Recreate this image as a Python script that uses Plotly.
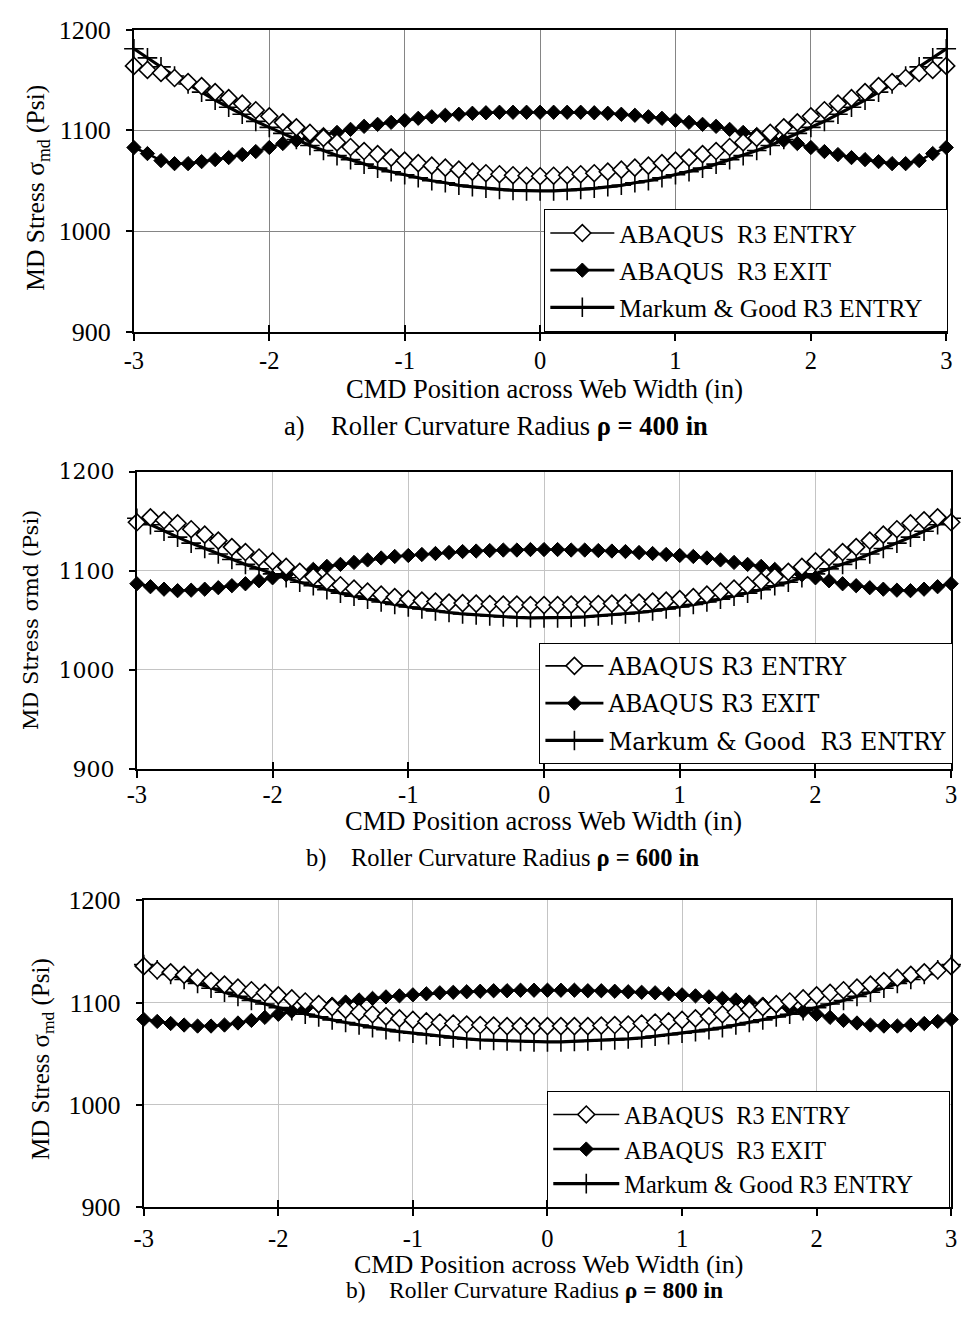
import plotly.graph_objects as go

X = [-3.0, -2.9, -2.8, -2.7, -2.6, -2.5, -2.4, -2.3, -2.2, -2.1, -2.0, -1.9, -1.8, -1.7, -1.6, -1.5, -1.4, -1.3, -1.2, -1.1,
     -1.0, -0.9, -0.8, -0.7, -0.6, -0.5, -0.4, -0.3, -0.2, -0.1, 0.0, 0.1, 0.2, 0.3, 0.4, 0.5, 0.6, 0.7, 0.8, 0.9,
     1.0, 1.1, 1.2, 1.3, 1.4, 1.5, 1.6, 1.7, 1.8, 1.9, 2.0, 2.1, 2.2, 2.3, 2.4, 2.5, 2.6, 2.7, 2.8, 2.9, 3.0]

# Panel a: rho = 400 in
ENTRY_A = [1164, 1160, 1157, 1152, 1148, 1144, 1138, 1132, 1126.5, 1120, 1114, 1108, 1103, 1097.5, 1092.5, 1088, 1083.5,
           1079.5, 1076.5, 1073, 1070, 1067.5, 1065, 1063, 1061, 1059, 1057.5, 1056.5, 1055.5, 1055, 1054.5,
           1055, 1055.5, 1056.5, 1057.5, 1059, 1061, 1063, 1065, 1067.5, 1070, 1073, 1076.5, 1079.5, 1083.5, 1088,
           1092.5, 1097.5, 1103, 1108, 1114, 1120, 1126.5, 1132, 1138, 1144, 1148, 1152, 1157, 1160, 1164]
EXIT_A = [1083, 1077, 1070, 1067, 1067, 1069, 1071, 1073, 1076, 1079, 1083, 1087, 1090, 1093, 1096, 1098, 1101, 1104,
          1106, 1108, 1110, 1112, 1113.5, 1115, 1116, 1117, 1117.5, 1118, 1118, 1118, 1118,
          1118, 1118, 1118, 1117.5, 1117, 1116, 1115, 1113.5, 1112, 1110, 1108, 1106, 1104, 1101, 1098, 1096, 1093,
          1090, 1087, 1083, 1079, 1076, 1073, 1071, 1069, 1067, 1067, 1070, 1077, 1083]
MG_A = [1181, 1172, 1163, 1154, 1146, 1138, 1130, 1123, 1116, 1109, 1103, 1097, 1091, 1085, 1080, 1075, 1071, 1066.5,
        1062.5, 1059, 1056, 1053, 1050, 1048, 1045.5, 1044, 1042.5, 1041.5, 1040.5, 1040, 1040,
        1040, 1040.5, 1041.5, 1042.5, 1044, 1045.5, 1048, 1050, 1053, 1056, 1059, 1062.5, 1066.5, 1071, 1075, 1080,
        1085, 1091, 1097, 1103, 1109, 1116, 1123, 1130, 1138, 1146, 1154, 1163, 1172, 1181]

# Panel b: rho = 600 in
ENTRY_B = [1149, 1154, 1151, 1148, 1142, 1136.5, 1130.5, 1124, 1119, 1113.5, 1109.5, 1104, 1099, 1094, 1089.5, 1085.5,
           1082, 1079, 1076, 1073.5, 1071.5, 1070, 1069, 1068, 1067.5, 1067, 1066.5, 1066, 1066, 1065.5, 1065.5,
           1065.5, 1066, 1066, 1066.5, 1067, 1067.5, 1068, 1069, 1070, 1071.5, 1073.5, 1076, 1079, 1082, 1085.5,
           1089.5, 1094, 1099, 1104, 1109.5, 1113.5, 1119, 1124, 1130.5, 1136.5, 1142, 1148, 1151, 1154, 1149]
EXIT_B = [1087, 1084, 1081.5, 1080, 1080.5, 1081.5, 1083, 1085, 1087, 1090, 1093, 1096, 1099, 1101.5, 1104.5, 1106.5,
          1108.5, 1111, 1113, 1114.5, 1115.5, 1116.5, 1117.5, 1118.5, 1119.5, 1120, 1120.5, 1121, 1121, 1121.5, 1121.5,
          1121.5, 1121, 1121, 1120.5, 1120, 1119.5, 1118.5, 1117.5, 1116.5, 1115.5, 1114.5, 1113, 1111, 1108.5, 1106.5,
          1104.5, 1101.5, 1099, 1096, 1093, 1090, 1087, 1085, 1083, 1081.5, 1080.5, 1080, 1081.5, 1084, 1087]
MG_B = [1153, 1146.5, 1140, 1134, 1128, 1122.5, 1117, 1111.5, 1106.5, 1102, 1097, 1093, 1088.5, 1085, 1081, 1077.5,
        1074.5, 1071.5, 1068.5, 1066, 1063.5, 1061.5, 1059.5, 1058, 1056.5, 1055.5, 1054.5, 1053.5, 1053, 1052.5, 1052.5,
        1052.5, 1053, 1053.5, 1054.5, 1055.5, 1056.5, 1058, 1059.5, 1061.5, 1063.5, 1066, 1068.5, 1071.5, 1074.5, 1077.5,
        1081, 1085, 1088.5, 1093, 1097, 1102, 1106.5, 1111.5, 1117, 1122.5, 1128, 1134, 1140, 1146.5, 1153]

# Panel c: rho = 800 in
ENTRY_C = [1135.5, 1131.5, 1129.5, 1127, 1124, 1121, 1117.5, 1114.5, 1112, 1109.5, 1107, 1104, 1101, 1098.5, 1095.5,
           1093, 1090.5, 1088.5, 1086.5, 1084.5, 1083, 1081.5, 1080.5, 1079.5, 1078.5, 1078, 1077.5, 1077, 1077, 1077, 1077,
           1077, 1077, 1077, 1077.5, 1078, 1078.5, 1079.5, 1080.5, 1081.5, 1083, 1084.5, 1086.5, 1088.5, 1090.5, 1093,
           1095.5, 1098.5, 1101, 1104, 1107, 1109.5, 1112, 1114.5, 1117.5, 1121, 1124, 1127, 1129.5, 1131.5, 1135.5]
EXIT_C = [1083.5, 1081.5, 1079.5, 1078, 1077, 1077, 1078, 1080, 1082.5, 1085.5, 1088.5, 1091.5, 1094, 1096.5, 1098.5,
          1100.5, 1102.5, 1104, 1105.5, 1106.5, 1107.5, 1108.5, 1109.5, 1110, 1110.5, 1111, 1111.5, 1111.5, 1112, 1112, 1112,
          1112, 1112, 1111.5, 1111.5, 1111, 1110.5, 1110, 1109.5, 1108.5, 1107.5, 1106.5, 1105.5, 1104, 1102.5, 1100.5,
          1098.5, 1096.5, 1094, 1091.5, 1088.5, 1085.5, 1082.5, 1080, 1078, 1077, 1077, 1078, 1079.5, 1081.5, 1083.5]
MG_C = [1137, 1132, 1127.5, 1122.5, 1118.5, 1114, 1110, 1106, 1102, 1098.5, 1095, 1092, 1088.5, 1086, 1083, 1080.5,
        1078, 1075.5, 1073.5, 1071.5, 1070, 1068.5, 1067, 1065.5, 1064.5, 1063.5, 1063, 1062.5, 1062, 1061.5, 1061.5,
        1061.5, 1062, 1062.5, 1063, 1063.5, 1064.5, 1065.5, 1067, 1068.5, 1070, 1071.5, 1073.5, 1075.5, 1078, 1080.5,
        1083, 1086, 1088.5, 1092, 1095, 1098.5, 1102, 1106, 1110, 1114, 1118.5, 1122.5, 1127.5, 1132, 1137]

for arr in (ENTRY_A, EXIT_A, MG_A, ENTRY_B, EXIT_B, MG_B, ENTRY_C, EXIT_C, MG_C):
    assert len(arr) == len(X), len(arr)

X_TICKS = [-3, -2, -1, 0, 1, 2, 3]
Y_TICKS = [900, 1000, 1100, 1200]

NB = "&nbsp;"
NAMES_A = ["ABAQUS  R3 ENTRY", "ABAQUS  R3 EXIT", "Markum & Good R3 ENTRY" + NB * 3]
NAMES_B = ["ABAQUS R3 ENTRY", "ABAQUS R3 EXIT", "Markum & Good  R3 ENTRY"]
NAMES_C = ["ABAQUS  R3 ENTRY", "ABAQUS  R3 EXIT", "Markum & Good R3 ENTRY" + NB * 5]

W, H = 968, 1323
TIMES = "Liberation Serif, Times New Roman, serif"
PALA = "DejaVu Serif, serif"

panels = [
    dict(entry=ENTRY_A, exit=EXIT_A, mg=MG_A, names=NAMES_A, px=(126, 952), py=(16, 325), grid="#858585",
         ytickfont=dict(family=TIMES, size=26), xtick_standoff=-1, xtick_size=24.5,
         legfont=dict(family=TIMES, size=25.5), legxy=(543, 199), leg_iw=64, leg_gap=1,
         ytitle="MD Stress σ<sub>md</sub> (Psi)", ytfont=dict(family=TIMES, size=25.5), ytx=28, yty=178,
         xtitle_x=543, xtitle_y=383, xtitle_size=26.5,
         cap="a)" + NB * 4 + "Roller Curvature Radius <b>ρ = 400 in</b>", cap_x=494, cap_y=421, cap_size=26.5),
    dict(entry=ENTRY_B, exit=EXIT_B, mg=MG_B, names=NAMES_B, px=(129, 957), py=(468, 772), grid="#c4c4c4",
         ytickfont=dict(family=PALA, size=22), xtick_standoff=-4, xtick_size=24.5,
         legfont=dict(family=PALA, size=23.3), legxy=(538, 643), leg_iw=58, leg_gap=4,
         ytitle="MD Stress σmd (Psi)", ytfont=dict(family=PALA, size=21), ytx=22, yty=620,
         xtitle_x=542, xtitle_y=825, xtitle_size=26.5,
         cap="b)" + NB * 4 + "Roller Curvature Radius <b>ρ = 600 in</b>", cap_x=501, cap_y=863, cap_size=24.5),
    dict(entry=ENTRY_C, exit=EXIT_C, mg=MG_C, names=NAMES_C, px=(136, 957), py=(906, 1220), grid="#c4c4c4",
         ytickfont=dict(family=TIMES, size=26), xtick_standoff=1, xtick_size=24.5,
         legfont=dict(family=TIMES, size=24.3), legxy=(546, 1101), leg_iw=66, leg_gap=0,
         ytitle="MD Stress σ<sub>md</sub> (Psi)", ytfont=dict(family=TIMES, size=25), ytx=33, yty=1068,
         xtitle_x=548, xtitle_y=1279, xtitle_size=26,
         cap="b)" + NB * 4 + "Roller Curvature Radius <b>ρ = 800 in</b>", cap_x=533, cap_y=1305, cap_size=23.5),
]

fig = go.Figure()
layout = dict(width=W, height=H, margin=dict(l=0, r=0, t=0, b=0), paper_bgcolor="white",
              plot_bgcolor="white", showlegend=True, font=dict(family=TIMES, color="black"))
annotations = []

for i, p in enumerate(panels, start=1):
    xa = "x" if i == 1 else f"x{i}"
    ya = "y" if i == 1 else f"y{i}"
    leg = "legend" if i == 1 else f"legend{i}"
    common = dict(x=X, xaxis=xa, yaxis=ya, legend=leg, cliponaxis=False, mode="lines+markers")
    fig.add_trace(go.Scatter(y=p["mg"], name=p["names"][2], legendrank=3, legendgroup=f"mg{i}",
                             line=dict(color="black", width=3.2),
                             marker=dict(symbol="cross-thin", size=14, line=dict(color="black", width=1.6)),
                             **common))
    fig.add_trace(go.Scatter(y=p["exit"], name=p["names"][1], legendrank=2, legendgroup=f"ex{i}",
                             line=dict(color="black", width=2.6),
                             marker=dict(symbol="diamond", size=11, color="black",
                                         line=dict(color="black", width=1)),
                             **common))
    fig.add_trace(go.Scatter(y=p["entry"], name=p["names"][0], legendrank=1, legendgroup=f"en{i}",
                             line=dict(color="black", width=1.6),
                             marker=dict(symbol="diamond", size=13, color="white",
                                         line=dict(color="black", width=1.6)),
                             **common))

    xdom = [p["px"][0] / W, p["px"][1] / W]
    ydom = [1 - p["py"][1] / H, 1 - p["py"][0] / H]
    xkey = "xaxis" if i == 1 else f"xaxis{i}"
    ykey = "yaxis" if i == 1 else f"yaxis{i}"
    layout[xkey] = dict(domain=xdom, anchor=ya, range=[-3, 3], tickvals=X_TICKS,
                        ticktext=[str(t) for t in X_TICKS], showgrid=True, gridcolor=p["grid"], gridwidth=1.3,
                        showline=True, linecolor="black", linewidth=2, mirror=True, ticks="outside",
                        ticklen=7, tickwidth=1.5, tickcolor="black",
                        tickfont=dict(family=TIMES, size=p["xtick_size"], color="black"),
                        zeroline=False, ticklabelstandoff=p["xtick_standoff"], fixedrange=True)
    layout[ykey] = dict(domain=ydom, anchor=xa, range=[900, 1200], tickvals=Y_TICKS,
                        showgrid=True, gridcolor=p["grid"], gridwidth=1.3,
                        showline=True, linecolor="black", linewidth=2, mirror=True, ticks="outside",
                        ticklen=6, tickwidth=1.5, tickcolor="black",
                        tickfont=dict(color="black", **p["ytickfont"]),
                        zeroline=False, ticklabelstandoff=10, fixedrange=True)
    # inner half of the crossing x tick marks
    ox = f"xaxis{i + 3}"
    layout[ox] = dict(overlaying=xa, anchor=ya, range=[-3, 3], tickvals=X_TICKS, showticklabels=False,
                      showgrid=False, showline=False, ticks="inside", ticklen=7, tickwidth=1.5,
                      tickcolor="black", zeroline=False, fixedrange=True)
    layout[leg] = dict(x=p["legxy"][0] / W, y=1 - p["legxy"][1] / H, xanchor="left", yanchor="top",
                       bgcolor="white", bordercolor="black", borderwidth=1.3,
                       font=dict(color="black", **p["legfont"]),
                       itemwidth=p["leg_iw"], traceorder="grouped", tracegroupgap=p["leg_gap"])
    annotations.append(dict(text=p["ytitle"], x=p["ytx"] / W, y=1 - p["yty"] / H, xref="paper", yref="paper",
                            textangle=-90, showarrow=False, font=dict(color="black", **p["ytfont"]),
                            xanchor="center", yanchor="middle"))
    annotations.append(dict(text="CMD Position across Web Width (in)", x=p["xtitle_x"] / W,
                            y=1 - p["xtitle_y"] / H, xref="paper", yref="paper", showarrow=False,
                            font=dict(family=TIMES, size=p["xtitle_size"], color="black"),
                            xanchor="center", yanchor="middle"))
    annotations.append(dict(text=p["cap"], x=p["cap_x"] / W, y=1 - p["cap_y"] / H, xref="paper", yref="paper",
                            showarrow=False, font=dict(family=TIMES, size=p["cap_size"], color="black"),
                            xanchor="center", yanchor="middle"))

# invisible helper traces so the overlay tick axes are drawn
for i in range(1, 4):
    ya = "y" if i == 1 else f"y{i}"
    fig.add_trace(go.Scatter(x=[None], y=[None], xaxis=f"x{i + 3}", yaxis=ya, showlegend=False,
                             hoverinfo="skip", mode="lines"))

layout["annotations"] = annotations
fig.update_layout(**layout)
fig.write_html("out.html")
